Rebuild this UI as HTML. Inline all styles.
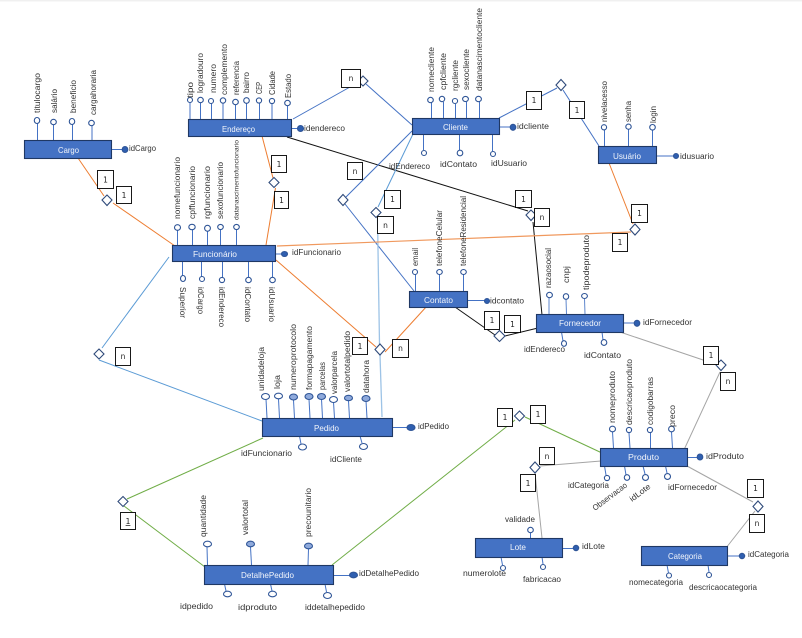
<!DOCTYPE html>
<html><head><meta charset="utf-8"><style>
html,body{margin:0;padding:0;background:#fff;width:802px;height:638px;overflow:hidden}
svg{display:block;filter:blur(.25px)}
text{font-family:"Liberation Sans",sans-serif;font-size:8px;fill:#333}
.e rect{fill:#4472c4;stroke:#1f3864;stroke-width:1.1}
.w{fill:#f2f5fb;font-size:8.5px}
.a line{stroke:#4472c4;stroke-width:1}
.a ellipse{fill:#fff;stroke:#2f5597;stroke-width:1.1}
.f ellipse,ellipse.f{fill:#2f5fb0;stroke:#2f5597}
ellipse.h{fill:#8faadc}
.b{stroke:#4472c4;stroke-width:1;fill:none}
.lb{stroke:#5b9bd5;stroke-width:1;fill:none}
.o{stroke:#ed7d31;stroke-width:1;fill:none}
.k{stroke:#111;stroke-width:1;fill:none}
.g{stroke:#a5a5a5;stroke-width:1;fill:none}
.gr{stroke:#70ad47;stroke-width:1;fill:none}
.d polygon{fill:#fff;stroke:#2f4a7a;stroke-width:1.1}
.x rect{fill:#fff;stroke:#000;stroke-width:.9}
.x text{font-family:"DejaVu Sans",sans-serif;font-size:7.5px;fill:#222;text-anchor:middle}
</style></head><body>
<svg width="802" height="638" viewBox="0 0 802 638" xmlns="http://www.w3.org/2000/svg">
<rect width="802" height="1.5" fill="#f0f0f0"/>

<!-- relationship lines -->
<polyline class="o" points="78,158 104,196"/>
<polyline class="o" points="113,203 175,246"/>
<polyline class="o" points="262,136 273,178"/>
<polyline class="o" points="275.5,188 266,245"/>
<polyline class="b" points="293,119 350,87"/>
<polyline class="b" points="366,84 412,125"/>
<polyline class="k" points="287,137 528,211"/>
<polyline class="k" points="533,222 542,315"/>
<polyline class="b" points="412,131 346,197"/>
<polyline class="b" points="345,204 414,291"/>
<polyline class="lb" points="413,134 378,207"/>
<polyline points="377.5,218 379.5,344" style="stroke:#9dc3e6;stroke-width:1.3;fill:none"/>
<polyline points="380,355 382,417" style="stroke:#9dc3e6;stroke-width:1.3;fill:none"/>
<polyline class="o" points="276,260 376,347"/>
<polyline class="o" points="385,352 427,306"/>
<polyline class="o" points="277,246 631,232" style="stroke:#f0995e;stroke-width:1.2"/>
<polyline class="o" points="609,163 633,224"/>
<polyline class="b" points="499,118 557,88"/>
<polyline class="b" points="563,90 599,146"/>
<polyline class="lb" points="169,257 102,348"/>
<polyline class="lb" points="99,360 262,421"/>
<polyline class="k" points="455,307 495,335"/>
<polyline class="k" points="505,336 538,328"/>
<polyline class="g" points="620,332 718,365"/>
<polyline class="g" points="720,372 683,452"/>
<polyline class="gr" points="263,438 127,499"/>
<polyline class="gr" points="124,506 205,567"/>
<polyline class="gr" points="332,565 515,420"/>
<polyline class="gr" points="525,417 602,453"/>
<polyline class="g" points="601,461 540,466"/>
<polyline class="g" points="535,473 542,538"/>
<polyline class="g" points="687,466 753,502"/>
<polyline class="g" points="755,511 726,548"/>

<!-- attribute stems and bubbles -->
<g class="a">
<line x1="37.5" y1="123" x2="37.5" y2="140"/><ellipse cx="37" cy="120.500" rx="2.700" ry="3"/>
<line x1="53.500" y1="125" x2="53.500" y2="140"/><ellipse cx="53.500" cy="122" rx="2.800" ry="2.700"/>
<line x1="72.500" y1="124" x2="72.500" y2="140"/><ellipse cx="72" cy="121.500" rx="2.700" ry="3"/>
<line x1="92" y1="126" x2="92" y2="140"/><ellipse cx="91.500" cy="123" rx="2.800" ry="2.700"/>
<line x1="111" y1="149.500" x2="124" y2="149.500"/><ellipse class="f" cx="125" cy="149.500" rx="2.800" ry="3"/>

<line x1="190" y1="102" x2="190" y2="119"/><ellipse cx="190" cy="100" rx="2.500" ry="2.500"/>
<line x1="200.500" y1="102" x2="200.500" y2="119"/><ellipse cx="200.500" cy="100" rx="2.800" ry="2.700"/>
<line x1="211.500" y1="103" x2="211.500" y2="119"/><ellipse cx="211" cy="101" rx="2.500" ry="2.500"/>
<line x1="223" y1="103" x2="223" y2="119"/><ellipse cx="223" cy="100.500" rx="2.700" ry="2.700"/>
<line x1="235.500" y1="105" x2="235.500" y2="119"/><ellipse cx="235.500" cy="102" rx="2.800" ry="2.700"/>
<line x1="246.500" y1="103" x2="246.500" y2="119"/><ellipse cx="246.500" cy="100.500" rx="2.800" ry="2.800"/>
<line x1="259.500" y1="103" x2="259.500" y2="119"/><ellipse cx="259" cy="100.500" rx="2.600" ry="2.600"/>
<line x1="272" y1="103" x2="272" y2="119"/><ellipse cx="272" cy="101" rx="2.600" ry="2.600"/>
<line x1="287.500" y1="105" x2="287.500" y2="119"/><ellipse cx="287.500" cy="103" rx="2.800" ry="2.700"/>
<line x1="292" y1="128.500" x2="300" y2="128.500"/><ellipse class="f" cx="300.500" cy="128.500" rx="3" ry="3"/>

<line x1="431.500" y1="103" x2="431.500" y2="118"/><ellipse cx="430.500" cy="100" rx="2.800" ry="2.700"/>
<line x1="443.500" y1="102" x2="443.500" y2="118"/><ellipse cx="442" cy="99" rx="2.700" ry="2.700"/>
<line x1="455.500" y1="104" x2="455.500" y2="118"/><ellipse cx="455" cy="101" rx="2.600" ry="2.500"/>
<line x1="466.500" y1="102" x2="466.500" y2="118"/><ellipse cx="465.500" cy="99" rx="2.900" ry="2.600"/>
<line x1="479.500" y1="102" x2="479.500" y2="118"/><ellipse cx="478.500" cy="99" rx="2.900" ry="2.700"/>
<line x1="423.500" y1="134" x2="423.500" y2="150"/><ellipse cx="424" cy="153" rx="2.500" ry="2.500"/>
<line x1="459.500" y1="134" x2="459.500" y2="150"/><ellipse cx="460" cy="153" rx="2.800" ry="2.800"/>
<line x1="492.500" y1="134" x2="492.500" y2="151"/><ellipse cx="493" cy="154" rx="2.500" ry="2.500"/>
<line x1="499" y1="127" x2="511" y2="127"/><ellipse class="f" cx="513" cy="127.300" rx="2.800" ry="3"/>

<line x1="604.500" y1="130" x2="604.500" y2="146"/><ellipse cx="604" cy="127.300" rx="2.600" ry="2.600"/>
<line x1="628.500" y1="129" x2="628.500" y2="146"/><ellipse cx="628.500" cy="126.700" rx="2.700" ry="2.600"/>
<line x1="652.500" y1="130" x2="652.500" y2="146"/><ellipse cx="652.500" cy="127.300" rx="2.800" ry="2.800"/>
<line x1="657" y1="156" x2="674" y2="156"/><ellipse class="f" cx="676" cy="156" rx="2.500" ry="2.500"/>

<line x1="177.500" y1="230" x2="177.500" y2="245"/><ellipse cx="177.500" cy="227.500" rx="3" ry="2.800"/>
<line x1="192.500" y1="230" x2="192.500" y2="245"/><ellipse cx="192" cy="227" rx="3.200" ry="2.700"/>
<line x1="207.500" y1="231" x2="207.500" y2="245"/><ellipse cx="207.500" cy="228.300" rx="2.900" ry="3"/>
<line x1="220.500" y1="230" x2="220.500" y2="245"/><ellipse cx="220.500" cy="227" rx="2.800" ry="2.600"/>
<line x1="236.500" y1="230" x2="236.500" y2="245"/><ellipse cx="236.500" cy="227" rx="2.800" ry="2.600"/>
<line x1="182.500" y1="261" x2="182.500" y2="276"/><ellipse cx="183" cy="278.500" rx="2.500" ry="3"/>
<line x1="201.500" y1="261" x2="201.500" y2="277"/><ellipse cx="202" cy="279" rx="2.500" ry="2.500"/>
<line x1="222.500" y1="261" x2="222.500" y2="277"/><ellipse cx="222" cy="280" rx="2.600" ry="2.600"/>
<line x1="248.500" y1="261" x2="248.500" y2="277"/><ellipse cx="248.500" cy="280" rx="2.800" ry="2.700"/>
<line x1="272.500" y1="261" x2="272.500" y2="277"/><ellipse cx="272.500" cy="280" rx="2.800" ry="2.700"/>
<line x1="276" y1="254" x2="283" y2="254"/><ellipse class="f" cx="284.500" cy="254" rx="3" ry="2.500"/>

<line x1="415.500" y1="274" x2="415.500" y2="291"/><ellipse cx="415" cy="272" rx="2.500" ry="2.500"/>
<line x1="439.500" y1="274" x2="439.500" y2="291"/><ellipse cx="439.500" cy="272" rx="2.800" ry="2.500"/>
<line x1="463.500" y1="274" x2="463.500" y2="291"/><ellipse cx="463.500" cy="272" rx="2.800" ry="2.500"/>
<line x1="468" y1="300.500" x2="485" y2="300.500"/><ellipse class="f" cx="487" cy="301" rx="2.500" ry="2.500"/>

<g style="opacity:.85">
<line x1="549" y1="298" x2="549" y2="314"/><line x1="566" y1="299" x2="566.500" y2="314"/><line x1="584.500" y1="299" x2="585" y2="314"/>
</g>
<ellipse cx="549.500" cy="295" rx="2.900" ry="2.700"/>
<ellipse cx="566" cy="296.500" rx="2.700" ry="2.800"/>
<ellipse cx="584.500" cy="296" rx="2.900" ry="2.500"/>
<line x1="561.500" y1="332" x2="563" y2="341"/><ellipse cx="564" cy="343.500" rx="2.500" ry="2.800"/>
<line x1="602" y1="332" x2="603" y2="340"/><ellipse cx="604" cy="342.500" rx="2.800" ry="2.900"/>
<line x1="624" y1="323" x2="635" y2="323"/><ellipse class="f" cx="637" cy="323.300" rx="2.800" ry="3"/>

<line x1="266" y1="399" x2="267" y2="418"/><ellipse cx="265.500" cy="396.500" rx="4" ry="3"/>
<line x1="278.500" y1="399" x2="279.500" y2="418"/><ellipse cx="278.500" cy="396" rx="4" ry="2.800"/>
<line x1="293.500" y1="400" x2="294.500" y2="418"/><ellipse class="h" cx="293.500" cy="397" rx="4" ry="3"/>
<line x1="309" y1="399" x2="310" y2="418"/><ellipse class="h" cx="309" cy="396.500" rx="4" ry="3"/>
<line x1="321.500" y1="399" x2="322.500" y2="418"/><ellipse class="h" cx="321.500" cy="396.500" rx="4" ry="3"/>
<line x1="333.500" y1="402" x2="334.500" y2="418"/><ellipse cx="333.500" cy="399.500" rx="4" ry="3"/>
<line x1="348.500" y1="401" x2="349.500" y2="418"/><ellipse class="h" cx="348.500" cy="398" rx="4" ry="2.700"/>
<line x1="366" y1="401" x2="367" y2="418"/><ellipse class="h" cx="366" cy="398.500" rx="4" ry="3"/>
<line x1="299.500" y1="436" x2="301" y2="444"/><ellipse cx="302.500" cy="447" rx="4" ry="3"/>
<line x1="360" y1="436" x2="362" y2="443"/><ellipse cx="363.500" cy="446.500" rx="4" ry="3"/>
<line x1="393" y1="427.500" x2="408" y2="427.500"/><ellipse class="f" cx="411" cy="427.500" rx="4" ry="3"/>

<line x1="207" y1="547" x2="207.500" y2="565"/><ellipse cx="207.500" cy="544" rx="4" ry="2.800"/>
<line x1="250.500" y1="547" x2="251.500" y2="565"/><ellipse class="h" cx="250.500" cy="544" rx="4" ry="2.800"/>
<line x1="308.500" y1="549" x2="308" y2="565"/><ellipse class="h" cx="308.500" cy="546" rx="4" ry="2.800"/>
<line x1="224.500" y1="584" x2="226" y2="591"/><ellipse cx="227.500" cy="594" rx="4" ry="2.800"/>
<line x1="270.500" y1="584" x2="272" y2="591"/><ellipse cx="272.500" cy="594" rx="4" ry="2.800"/>
<line x1="325" y1="584" x2="326.500" y2="592"/><ellipse cx="327.500" cy="595.500" rx="4" ry="3"/>
<line x1="334" y1="575.500" x2="350" y2="575.500"/><ellipse class="f" cx="353.500" cy="575" rx="4" ry="2.800"/>

<line x1="612.500" y1="432" x2="613.500" y2="448"/><ellipse cx="612.500" cy="429" rx="3" ry="2.800"/>
<line x1="629" y1="433" x2="630" y2="448"/><ellipse cx="629" cy="430" rx="2.600" ry="2.600"/>
<line x1="650.500" y1="433" x2="650.500" y2="448"/><ellipse cx="650" cy="430" rx="2.600" ry="2.600"/>
<line x1="671.500" y1="432" x2="672.500" y2="448"/><ellipse cx="671.500" cy="429" rx="2.900" ry="2.800"/>
<line x1="604.500" y1="466" x2="606" y2="475"/><ellipse cx="607" cy="478" rx="2.600" ry="2.600"/>
<line x1="624.500" y1="466" x2="626" y2="475"/><ellipse cx="627" cy="477.500" rx="2.700" ry="2.800"/>
<line x1="643" y1="466" x2="645" y2="474"/><ellipse cx="645.500" cy="477.500" rx="3" ry="2.900"/>
<line x1="665.500" y1="466" x2="667" y2="473"/><ellipse cx="667.500" cy="476.500" rx="3" ry="2.900"/>
<line x1="688" y1="457.500" x2="698" y2="457.500"/><ellipse class="f" cx="700" cy="457" rx="2.800" ry="3"/>

<line x1="530.500" y1="533" x2="530.500" y2="538"/><ellipse cx="530.500" cy="530" rx="2.800" ry="2.700"/>
<line x1="501" y1="557" x2="502.500" y2="565"/><ellipse cx="503" cy="568" rx="2.500" ry="2.500"/>
<line x1="542" y1="557" x2="543" y2="564"/><ellipse cx="543" cy="567" rx="2.500" ry="2.500"/>
<line x1="563" y1="548.500" x2="574" y2="548.500"/><ellipse class="f" cx="576" cy="548" rx="2.700" ry="2.700"/>

<line x1="667" y1="565" x2="668.500" y2="573"/><ellipse cx="669" cy="575.500" rx="2.500" ry="2.500"/>
<line x1="708" y1="565" x2="709" y2="572"/><ellipse cx="709" cy="575" rx="2.500" ry="2.500"/>
<line x1="728" y1="556" x2="740" y2="556"/><ellipse class="f" cx="742" cy="556" rx="2.700" ry="2.700"/>
</g>

<!-- entities -->
<g class="e">
<rect x="24.500" y="140.500" width="87" height="18"/>
<rect x="188.500" y="119.500" width="103" height="17"/>
<rect x="412.500" y="118.500" width="87" height="16"/>
<rect x="598.500" y="146.500" width="58" height="17"/>
<rect x="172.500" y="245.500" width="103" height="16"/>
<rect x="409.500" y="291.500" width="58" height="16"/>
<rect x="536.500" y="314.500" width="87" height="18"/>
<rect x="262.500" y="418.500" width="130" height="18"/>
<rect x="204.500" y="565.500" width="129" height="19"/>
<rect x="600.500" y="448.500" width="87" height="18"/>
<rect x="475.500" y="538.500" width="87" height="19"/>
<rect x="641.500" y="546.500" width="86" height="19"/>
</g>
<text class="w" x="58" y="153" textLength="21" lengthAdjust="spacingAndGlyphs">Cargo</text>
<text class="w" x="222" y="132" textLength="33" lengthAdjust="spacingAndGlyphs">Endereço</text>
<text class="w" x="443" y="130" textLength="25" lengthAdjust="spacingAndGlyphs">Cliente</text>
<text class="w" x="613" y="159" textLength="28" lengthAdjust="spacingAndGlyphs">Usuário</text>
<text class="w" x="193" y="257" textLength="44" lengthAdjust="spacingAndGlyphs">Funcionário</text>
<text class="w" x="424" y="303" textLength="29" lengthAdjust="spacingAndGlyphs">Contato</text>
<text class="w" x="559" y="326" textLength="42" lengthAdjust="spacingAndGlyphs">Fornecedor</text>
<text class="w" x="314" y="431" textLength="25" lengthAdjust="spacingAndGlyphs">Pedido</text>
<text class="w" x="241" y="578" textLength="53" lengthAdjust="spacingAndGlyphs">DetalhePedido</text>
<text class="w" x="628" y="460" textLength="31" lengthAdjust="spacingAndGlyphs">Produto</text>
<text class="w" x="510" y="550" textLength="16" lengthAdjust="spacingAndGlyphs">Lote</text>
<text class="w" x="668" y="559" textLength="34" lengthAdjust="spacingAndGlyphs">Categoria</text>

<!-- vertical labels (reading up) -->
<g>
<text transform="translate(40,113) rotate(-90)" textLength="40" lengthAdjust="spacingAndGlyphs">titulocargo</text>
<text transform="translate(57,113) rotate(-90)" textLength="24" lengthAdjust="spacingAndGlyphs">salário</text>
<text transform="translate(76,113) rotate(-90)" textLength="33" lengthAdjust="spacingAndGlyphs">beneficio</text>
<text transform="translate(96,115) rotate(-90)" textLength="45" lengthAdjust="spacingAndGlyphs">cargahoraria</text>

<text transform="translate(193,98) rotate(-90)" textLength="16" lengthAdjust="spacingAndGlyphs">tipo</text>
<text transform="translate(203,93) rotate(-90)" textLength="40" lengthAdjust="spacingAndGlyphs">logradouro</text>
<text transform="translate(216,93) rotate(-90)" textLength="29" lengthAdjust="spacingAndGlyphs">numero</text>
<text transform="translate(227,95) rotate(-90)" textLength="51" lengthAdjust="spacingAndGlyphs">complemento</text>
<text transform="translate(239,95) rotate(-90)" textLength="34" lengthAdjust="spacingAndGlyphs">referencia</text>
<text transform="translate(249,93) rotate(-90)" textLength="21" lengthAdjust="spacingAndGlyphs">bairro</text>
<text transform="translate(262,94) rotate(-90)" textLength="12" lengthAdjust="spacingAndGlyphs">CEP</text>
<text transform="translate(275,95) rotate(-90)" textLength="24" lengthAdjust="spacingAndGlyphs">Cidade</text>
<text transform="translate(291,98) rotate(-90)" textLength="24" lengthAdjust="spacingAndGlyphs">Estado</text>

<text transform="translate(434,92) rotate(-90)" textLength="45" lengthAdjust="spacingAndGlyphs">nomecliente</text>
<text transform="translate(446,90) rotate(-90)" textLength="37" lengthAdjust="spacingAndGlyphs">cpfcliente</text>
<text transform="translate(458,91) rotate(-90)" textLength="31" lengthAdjust="spacingAndGlyphs">rgcliente</text>
<text transform="translate(469,90) rotate(-90)" textLength="41" lengthAdjust="spacingAndGlyphs">sexocliente</text>
<text transform="translate(482,91) rotate(-90)" textLength="83" lengthAdjust="spacingAndGlyphs">datanascimentocliente</text>

<text transform="translate(607,122) rotate(-90)" textLength="41" lengthAdjust="spacingAndGlyphs">nivelacesso</text>
<text transform="translate(631,122) rotate(-90)" textLength="21" lengthAdjust="spacingAndGlyphs">senha</text>
<text transform="translate(656,123) rotate(-90)" textLength="17" lengthAdjust="spacingAndGlyphs">login</text>

<text transform="translate(180,219) rotate(-90)" textLength="62" lengthAdjust="spacingAndGlyphs">nomefuncionario</text>
<text transform="translate(195,219) rotate(-90)" textLength="53" lengthAdjust="spacingAndGlyphs">cpffuncionario</text>
<text transform="translate(210,219) rotate(-90)" textLength="53" lengthAdjust="spacingAndGlyphs">rgfuncionario</text>
<text transform="translate(223,219) rotate(-90)" textLength="57" lengthAdjust="spacingAndGlyphs">sexofuncionario</text>
<text transform="translate(238.500,220) rotate(-90)" textLength="80" lengthAdjust="spacingAndGlyphs" style="font-size:6.500px">datanascimentofuncionario</text>

<text transform="translate(418,266) rotate(-90)" textLength="18" lengthAdjust="spacingAndGlyphs">email</text>
<text transform="translate(442,266) rotate(-90)" textLength="56" lengthAdjust="spacingAndGlyphs">telefoneCelular</text>
<text transform="translate(466,266) rotate(-90)" textLength="70" lengthAdjust="spacingAndGlyphs">telefoneResidencial</text>

<text transform="translate(551,288) rotate(-90)" textLength="40" lengthAdjust="spacingAndGlyphs">razaosocial</text>
<text transform="translate(569,283) rotate(-90)" textLength="17" lengthAdjust="spacingAndGlyphs">cnpj</text>
<text transform="translate(589,290) rotate(-90)" textLength="55" lengthAdjust="spacingAndGlyphs">tipodeproduto</text>

<text transform="translate(264,391) rotate(-90)" textLength="44" lengthAdjust="spacingAndGlyphs">unidadeloja</text>
<text transform="translate(280,389) rotate(-90)" textLength="14" lengthAdjust="spacingAndGlyphs">loja</text>
<text transform="translate(296,390) rotate(-90)" textLength="66" lengthAdjust="spacingAndGlyphs">numeroprotocolo</text>
<text transform="translate(312,390) rotate(-90)" textLength="64" lengthAdjust="spacingAndGlyphs">formapagamento</text>
<text transform="translate(325,390) rotate(-90)" textLength="28" lengthAdjust="spacingAndGlyphs">parcelas</text>
<text transform="translate(337,394) rotate(-90)" textLength="43" lengthAdjust="spacingAndGlyphs">valorparcela</text>
<text transform="translate(350,392) rotate(-90)" textLength="61" lengthAdjust="spacingAndGlyphs">valortotalpedido</text>
<text transform="translate(369,393) rotate(-90)" textLength="33" lengthAdjust="spacingAndGlyphs">datahora</text>

<text transform="translate(206,537) rotate(-90)" textLength="42" lengthAdjust="spacingAndGlyphs">quantidade</text>
<text transform="translate(248,535) rotate(-90)" textLength="35" lengthAdjust="spacingAndGlyphs">valortotal</text>
<text transform="translate(311,537) rotate(-90)" textLength="49" lengthAdjust="spacingAndGlyphs">precounitario</text>

<text transform="translate(615,423) rotate(-90)" textLength="52" lengthAdjust="spacingAndGlyphs">nomeproduto</text>
<text transform="translate(632,425) rotate(-90)" textLength="66" lengthAdjust="spacingAndGlyphs">descricaoproduto</text>
<text transform="translate(653,425) rotate(-90)" textLength="48" lengthAdjust="spacingAndGlyphs">codigobarras</text>
<text transform="translate(675,427) rotate(-90)" textLength="22" lengthAdjust="spacingAndGlyphs">preco</text>

<!-- reading down -->
<text transform="translate(180,287) rotate(90)" textLength="31" lengthAdjust="spacingAndGlyphs">Superior</text>
<text transform="translate(198,287) rotate(90)" textLength="27" lengthAdjust="spacingAndGlyphs">idCargo</text>
<text transform="translate(219,287) rotate(90)" textLength="40" lengthAdjust="spacingAndGlyphs">idEndereco</text>
<text transform="translate(245,287) rotate(90)" textLength="35" lengthAdjust="spacingAndGlyphs">idContato</text>
<text transform="translate(269,287) rotate(90)" textLength="35" lengthAdjust="spacingAndGlyphs">idUsuario</text>

<!-- slanted -->
<text transform="translate(595,511) rotate(-37)" textLength="41" lengthAdjust="spacingAndGlyphs">Observacao</text>
<text transform="translate(632,502) rotate(-37)" textLength="24" lengthAdjust="spacingAndGlyphs">idLote</text>

<!-- horizontal labels -->
<text x="129" y="151" textLength="27" lengthAdjust="spacingAndGlyphs">idCargo</text>
<text x="304" y="131" textLength="41" lengthAdjust="spacingAndGlyphs">idendereco</text>
<text x="389" y="169" textLength="41" lengthAdjust="spacingAndGlyphs">idEndereco</text>
<text x="440" y="167" textLength="37" lengthAdjust="spacingAndGlyphs">idContato</text>
<text x="491" y="166" textLength="36" lengthAdjust="spacingAndGlyphs">idUsuario</text>
<text x="517" y="129" textLength="32" lengthAdjust="spacingAndGlyphs">idcliente</text>
<text x="680" y="159" textLength="34" lengthAdjust="spacingAndGlyphs">idusuario</text>
<text x="292" y="255" textLength="49" lengthAdjust="spacingAndGlyphs">idFuncionario</text>
<text x="490" y="303.500" textLength="34" lengthAdjust="spacingAndGlyphs">idcontato</text>
<text x="643" y="325" textLength="49" lengthAdjust="spacingAndGlyphs">idFornecedor</text>
<text x="524" y="352" textLength="41" lengthAdjust="spacingAndGlyphs">idEndereco</text>
<text x="584" y="358" textLength="37" lengthAdjust="spacingAndGlyphs">idContato</text>
<text x="241" y="456" textLength="51" lengthAdjust="spacingAndGlyphs">idFuncionario</text>
<text x="330" y="462" textLength="32" lengthAdjust="spacingAndGlyphs">idCliente</text>
<text x="418" y="429" textLength="31" lengthAdjust="spacingAndGlyphs">idPedido</text>
<text x="180" y="609" textLength="33" lengthAdjust="spacingAndGlyphs">idpedido</text>
<text x="238" y="610" textLength="39" lengthAdjust="spacingAndGlyphs">idproduto</text>
<text x="305" y="610" textLength="60" lengthAdjust="spacingAndGlyphs">iddetalhepedido</text>
<text x="359" y="576" textLength="60" lengthAdjust="spacingAndGlyphs">idDetalhePedido</text>
<text x="706" y="459" textLength="38" lengthAdjust="spacingAndGlyphs">idProduto</text>
<text x="568" y="488" textLength="41" lengthAdjust="spacingAndGlyphs">idCategoria</text>
<text x="668" y="490" textLength="49" lengthAdjust="spacingAndGlyphs">idFornecedor</text>
<text x="505" y="522" textLength="30" lengthAdjust="spacingAndGlyphs">validade</text>
<text x="463" y="576" textLength="43" lengthAdjust="spacingAndGlyphs">numerolote</text>
<text x="523" y="582" textLength="38" lengthAdjust="spacingAndGlyphs">fabricacao</text>
<text x="582" y="549" textLength="23" lengthAdjust="spacingAndGlyphs">idLote</text>
<text x="629" y="585" textLength="54" lengthAdjust="spacingAndGlyphs">nomecategoria</text>
<text x="689" y="590" textLength="68" lengthAdjust="spacingAndGlyphs">descricaocategoria</text>
<text x="748" y="557" textLength="41" lengthAdjust="spacingAndGlyphs">idCategoria</text>
</g>

<!-- diamonds -->
<g class="d">
<polygon points="107,195 112,200 107,205.500 102,200"/>
<polygon points="274,177.500 279,182.500 274,187.500 269,182.500"/>
<polygon points="363,76 368,81 363,86 358,81"/>
<polygon points="343,194.500 348,200 343,205.500 338,200"/>
<polygon points="376,207.500 381,212.500 376,217.500 371,212.500"/>
<polygon points="561,79.500 566,85 561,90.500 556,85"/>
<polygon points="531,210 536,215 531,220.500 526,215"/>
<polygon points="635,224 640,229.500 635,235 630,229.500"/>
<polygon points="380,344 385,349.500 380,355 375,349.500"/>
<polygon points="99,349 104,354 99,359 94,354"/>
<polygon points="499.500,330.500 505,336 499.500,341.500 494,336"/>
<polygon points="721,360 726,365 721,370.500 716,365"/>
<polygon points="123,496.500 128,501.500 123,506.500 118,501.500"/>
<polygon points="519.500,411 524.500,416 519.500,421 514.500,416"/>
<polygon points="535,462 540,467.500 535,473 530,467.500"/>
<polygon points="758,501 763,506.500 758,512 753,506.500"/>
</g>

<!-- cardinality boxes -->
<g class="x">
<rect x="97.500" y="170.500" width="16" height="18"/><text x="105.500" y="182.500">1</text>
<rect x="116.500" y="186.500" width="15" height="17"/><text x="124" y="198">1</text>
<rect x="271.500" y="155.500" width="15" height="17"/><text x="279" y="167">1</text>
<rect x="274.500" y="191.500" width="14" height="17"/><text x="281.500" y="203">1</text>
<rect x="341.500" y="69.500" width="19" height="18"/><text x="351" y="81">n</text>
<rect x="347.500" y="162.500" width="15" height="17"/><text x="355" y="174">n</text>
<rect x="384.500" y="190.500" width="16" height="18"/><text x="392.500" y="202">1</text>
<rect x="377.500" y="216.500" width="16" height="17"/><text x="385.500" y="228">n</text>
<rect x="526.500" y="91.500" width="15" height="18"/><text x="534" y="103">1</text>
<rect x="569.500" y="101.500" width="15" height="17"/><text x="577" y="113">1</text>
<rect x="515.500" y="190.500" width="16" height="17"/><text x="523.500" y="202">1</text>
<rect x="534.500" y="208.500" width="15" height="18"/><text x="542" y="220">n</text>
<rect x="631.500" y="204.500" width="16" height="18"/><text x="639.500" y="216">1</text>
<rect x="612.500" y="233.500" width="15" height="18"/><text x="620" y="245">1</text>
<rect x="352.500" y="337.500" width="15" height="17"/><text x="360" y="349">1</text>
<rect x="392.500" y="339.500" width="16" height="18"/><text x="400.500" y="351">n</text>
<rect x="115.500" y="347.500" width="15" height="18"/><text x="123" y="359">n</text>
<rect x="484.500" y="311.500" width="15" height="18"/><text x="492" y="323">1</text>
<rect x="504.500" y="315.500" width="16" height="17"/><text x="512.500" y="327">1</text>
<rect x="703.500" y="346.500" width="15" height="18"/><text x="711" y="358">1</text>
<rect x="720.500" y="372.500" width="15" height="18"/><text x="728" y="384">n</text>
<rect x="120.500" y="512.500" width="15" height="17"/><text x="128" y="524" text-decoration="underline">1</text>
<rect x="497.500" y="408.500" width="15" height="18"/><text x="505" y="420">1</text>
<rect x="530.500" y="405.500" width="15" height="18"/><text x="538" y="417">1</text>
<rect x="539.500" y="447.500" width="15" height="17"/><text x="547" y="459">n</text>
<rect x="520.500" y="474.500" width="15" height="17"/><text x="528" y="486">1</text>
<rect x="747.500" y="479.500" width="16" height="18"/><text x="755.500" y="491">1</text>
<rect x="749.500" y="514.500" width="15" height="18"/><text x="757" y="526">n</text>
</g>
</svg>
</body></html>
